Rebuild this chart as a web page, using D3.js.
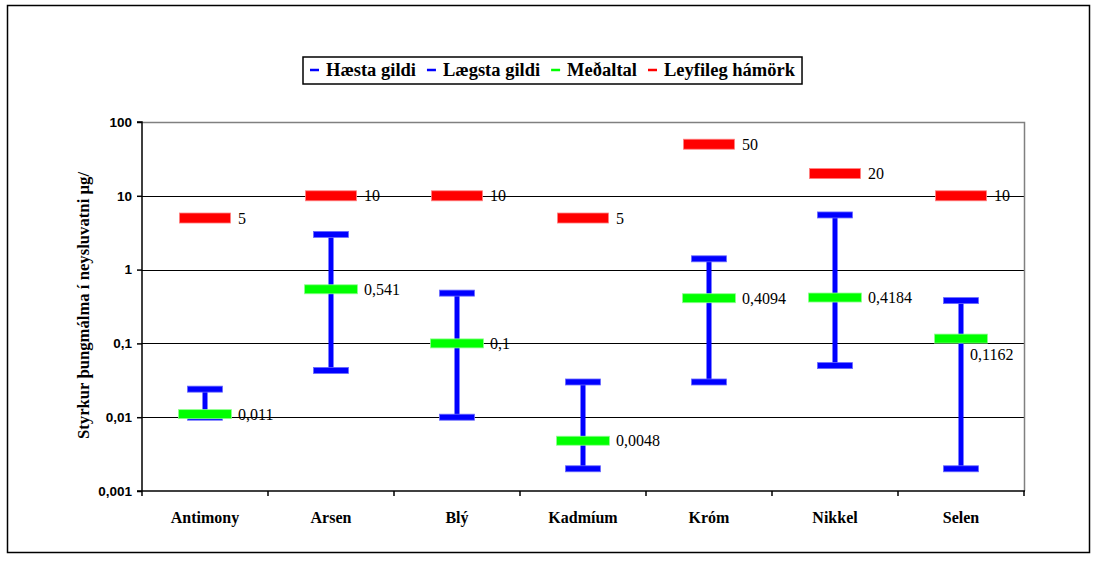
<!DOCTYPE html>
<html>
<head>
<meta charset="utf-8">
<script src="https://cdn.jsdelivr.net/npm/d3@7"></script>
<style>
  html, body { margin: 0; padding: 0; background: #fff; }
  svg { display: block; }
  .serif { font-family: "Liberation Serif", "Times New Roman", Times, "DejaVu Serif", serif; }
  .sans { font-family: "Liberation Sans", Arial, Helvetica, sans-serif; }
</style>
</head>
<body>
<svg id="chart" width="1099" height="571"></svg>
<script>
// Metals measured in drinking water (µg/l)
const categories = ["Antimony", "Arsen", "Blý", "Kadmíum", "Króm", "Nikkel", "Selen"];
const highest = [0.024, 3, 0.48, 0.03, 1.4, 5.5, 0.38];          // Hæsta gildi
const lowest  = [0.01, 0.043, 0.01, 0.002, 0.03, 0.05, 0.002];    // Lægsta gildi
const average = [0.011, 0.541, 0.1, 0.0048, 0.4094, 0.4184, 0.1162]; // Meðaltal
const limit   = [5, 10, 10, 5, 50, 20, 10];                       // Leyfileg hámörk
const yTicks  = [0.001, 0.01, 0.1, 1, 10, 100];
const yTickLabels = ["0,001", "0,01", "0,1", "1", "10", "100"];
const legendItems = ["Hæsta gildi", "Lægsta gildi", "Meðaltal", "Leyfileg hámörk"];
const legendColors = ["#0000ff", "#0000ff", "#00ff00", "#ff0000"];
const yTitle = "Styrkur þungmálma í neysluvatni µg/";

const fmt = v => String(v).replace(".", ",");

const svg = d3.select("#chart");
const plot = { left: 142, right: 1024, top: 122, bottom: 491 };

// outer chart frame
svg.append("rect")
  .attr("x", 7.5).attr("y", 5.5).attr("width", 1082).attr("height", 547)
  .attr("fill", "none").attr("stroke", "#000").attr("stroke-width", 1.5);

const x = d3.scaleBand().domain(categories).range([plot.left, plot.right]).padding(0);
const y = d3.scaleLog().domain([0.001, 100]).range([plot.bottom, plot.top]);

// horizontal gridlines
svg.append("g").selectAll("line")
  .data(yTicks.filter(t => t > 0.001 && t < 100))
  .join("line")
  .attr("x1", plot.left).attr("x2", plot.right)
  .attr("y1", d => Math.round(y(d)) + 0.5).attr("y2", d => Math.round(y(d)) + 0.5)
  .attr("stroke", "#000").attr("stroke-width", 1);

// plot area top and right border (grey)
svg.append("path")
  .attr("d", `M${plot.left},${plot.top + 0.5}H${plot.right + 0.5}V${plot.bottom}`)
  .attr("fill", "none").attr("stroke", "#808080").attr("stroke-width", 1.5);

// y axis
const yAxis = d3.axisLeft(y)
  .tickValues(yTicks)
  .tickFormat((d, i) => yTickLabels[i])
  .tickSize(5).tickPadding(5);
const gy = svg.append("g")
  .attr("transform", `translate(${plot.left},0)`)
  .call(yAxis);
gy.attr("font-family", null).attr("font-size", null);
gy.select(".domain").attr("stroke", "#000").attr("stroke-width", 1.5)
  .attr("d", `M-5,${plot.top}H0V${plot.bottom}`);
gy.selectAll(".tick line").attr("stroke", "#000").attr("stroke-width", 1.5);
gy.selectAll(".tick text")
  .attr("class", "sans")
  .attr("font-weight", "bold").attr("font-size", 13.5).attr("fill", "#000");

// x axis with ticks at category boundaries
const gx = svg.append("g").attr("transform", `translate(0,${plot.bottom})`);
gx.append("line")
  .attr("x1", plot.left - 5).attr("x2", plot.right + 1)
  .attr("stroke", "#000").attr("stroke-width", 1.5);
gx.selectAll(".bt")
  .data(categories.map(c => x(c)).concat([plot.right]))
  .join("line").attr("class", "bt")
  .attr("x1", d => d).attr("x2", d => d).attr("y1", 0).attr("y2", 5)
  .attr("stroke", "#000").attr("stroke-width", 1.5);
gx.selectAll("text")
  .data(categories)
  .join("text")
  .attr("class", "serif")
  .attr("x", d => x(d) + x.bandwidth() / 2)
  .attr("y", 26)
  .attr("dy", "0.35em")
  .attr("text-anchor", "middle")
  .attr("font-weight", "bold").attr("font-size", 16)
  .text(d => d);

// y axis title
svg.append("text")
  .attr("class", "serif")
  .attr("transform", `translate(83,${(plot.top + plot.bottom) / 2 - 1}) rotate(-90)`)
  .attr("text-anchor", "middle").attr("dy", "0.35em")
  .attr("font-weight", "bold").attr("font-size", 16.7)
  .text(yTitle);

const cx = i => x(categories[i]) + x.bandwidth() / 2;

// high-low lines
svg.append("g").selectAll("line")
  .data(categories.map((c, i) => i))
  .join("line")
  .attr("x1", i => cx(i)).attr("x2", i => cx(i))
  .attr("y1", i => y(highest[i])).attr("y2", i => y(lowest[i]))
  .attr("stroke", "#0000ff").attr("stroke-width", 5);

// dash markers
function dashes(values, w, h, fill, edge) {
  svg.append("g").selectAll("rect")
    .data(values.map((v, i) => ({ v, i })))
    .join("rect")
    .attr("x", d => cx(d.i) - w / 2)
    .attr("y", d => y(d.v) - h / 2)
    .attr("width", w).attr("height", h)
    .attr("fill", fill).attr("stroke", edge).attr("stroke-width", 0.8);
}
dashes(highest, 35, 6, "#0000ff", "#6a6aff");
dashes(lowest, 35, 6, "#0000ff", "#6a6aff");
dashes(limit, 51, 10, "#ff0000", "#ff8080");
dashes(average, 53, 9, "#00ff00", "#90ff90");

// value labels; if a label would run past the plot edge it goes below the marker
function valueLabels(values, hOffset) {
  const g = svg.append("g");
  values.forEach((v, i) => {
    const t = g.append("text")
      .attr("class", "serif")
      .attr("font-size", 16).attr("fill", "#000")
      .attr("x", cx(i) + 33).attr("y", y(v)).attr("dy", "0.35em")
      .text(fmt(v));
    const w = t.node().getComputedTextLength();
    if (cx(i) + 33 + w > plot.right) {
      t.attr("x", cx(i) + 9).attr("y", y(v) + hOffset);
    }
  });
}
valueLabels(limit, 16);
valueLabels(average, 16);

// legend
const legend = svg.append("g");
let lx = 310;
const ly = 70;
legendItems.forEach((name, i) => {
  legend.append("line")
    .attr("x1", lx).attr("x2", lx + 9).attr("y1", ly).attr("y2", ly)
    .attr("stroke", legendColors[i]).attr("stroke-width", 2.5);
  const t = legend.append("text")
    .attr("class", "serif")
    .attr("x", lx + 16).attr("y", ly).attr("dy", "0.35em")
    .attr("font-weight", "bold")
    .attr("font-size", 18.5)
    .text(name);
  lx += 16 + t.node().getComputedTextLength() + 11;
});
legend.insert("rect", ":first-child")
  .attr("x", 303).attr("y", 57).attr("width", lx - 303 - 4).attr("height", 27)
  .attr("fill", "#fff").attr("stroke", "#000").attr("stroke-width", 1.5);
</script>
</body>
</html>
